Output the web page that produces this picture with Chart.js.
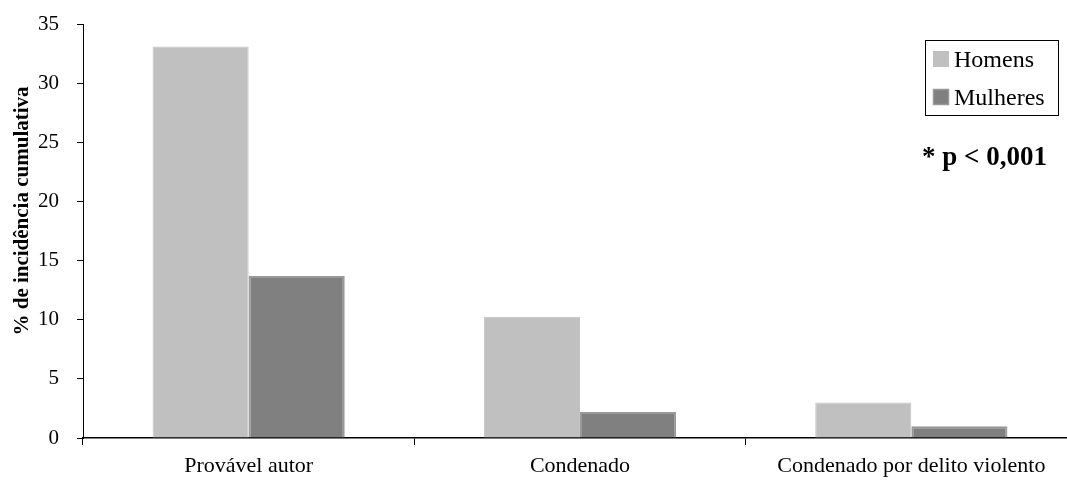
<!DOCTYPE html>
<html>
<head>
<meta charset="utf-8">
<script src="https://cdn.jsdelivr.net/npm/chart.js@4.4.0/dist/chart.umd.min.js"></script>
<style>
  html, body { margin: 0; padding: 0; background: #fff; overflow: hidden; }
  #wrap { width: 1078px; height: 485px; }
</style>
</head>
<body>
<div id="wrap"><canvas id="chart" width="1078" height="485"></canvas></div>
<script>
// data
const categories = ['Provável autor', 'Condenado', 'Condenado por delito violento'];
const homens = [33.1, 10.25, 3.0];
const mulheres = [13.7, 2.2, 1.0];
const yTicks = [0, 5, 10, 15, 20, 25, 30, 35];
const seriesNames = ['Homens', 'Mulheres'];
const yTitle = '% de incidência cumulativa';
const note = '* p < 0,001';

const serif = "'Liberation Serif', 'Times New Roman', serif";

// legend box, p-value note and y title (sits a bit above the axis middle)
const legendNote = {
  id: 'legendNote',
  afterDraw(chart) {
    const ctx = chart.ctx;
    const r = chart.chartArea.right;
    const x0 = r - 152, y0 = 40, w = 133, h = 75;
    ctx.save();
    ctx.fillStyle = '#fff';
    ctx.fillRect(x0, y0, w, h);
    ctx.strokeStyle = '#000';
    ctx.lineWidth = 1;
    ctx.strokeRect(x0 + 0.5, y0 + 0.5, w, h);
    ctx.font = '24px ' + serif;
    ctx.textBaseline = 'middle';
    chart.data.datasets.forEach((ds, i) => {
      const cy = y0 + 19 + i * 38;
      ctx.fillStyle = ds.backgroundColor;
      ctx.fillRect(x0 + 8, cy - 8, 16, 16);
      if (i === 1) {
        ctx.strokeStyle = ds.borderColor;
        ctx.lineWidth = 1.5;
        ctx.strokeRect(x0 + 8.5, cy - 7.5, 15, 15);
      }
      ctx.fillStyle = '#000';
      ctx.fillText(ds.label, x0 + 29, cy + 2);
    });
    ctx.font = 'bold 27px ' + serif;
    ctx.fillText(note, x0 - 3, 158);

    ctx.translate(23, chart.chartArea.top + 187);
    ctx.rotate(-Math.PI / 2);
    ctx.textAlign = 'center';
    ctx.font = 'bold 21px ' + serif;
    ctx.fillText(yTitle, 0, 0);
    ctx.restore();
  }
};

new Chart(document.getElementById('chart'), {
  type: 'bar',
  data: {
    labels: categories,
    datasets: [
      { label: seriesNames[0], data: homens, backgroundColor: '#c0c0c0', borderColor: '#c4c4c4', borderWidth: 1 },
      { label: seriesNames[1], data: mulheres, backgroundColor: '#808080', borderColor: '#999999', borderWidth: 2 }
    ]
  },
  options: {
    responsive: false,
    animation: false,
    layout: { padding: { top: 24, right: 1, left: 0, bottom: 0 } },
    datasets: { bar: { categoryPercentage: 0.58, barPercentage: 1.0 } },
    plugins: { legend: { display: false }, tooltip: { enabled: false } },
    scales: {
      x: {
        grid: { display: true, drawOnChartArea: false, offset: true, tickLength: 7, color: '#000' },
        border: { color: '#000', width: 1.5 },
        ticks: { color: '#000', font: { family: serif, size: 22 }, padding: 8, maxRotation: 0 },
        afterFit(s) { s.height = 47; }
      },
      y: {
        min: 0, max: 35,
        afterBuildTicks(s) { s.ticks = yTicks.map(v => ({ value: v })); },
        grid: { display: true, drawOnChartArea: false, tickLength: 6, color: '#000' },
        border: { color: '#000', width: 1 },
        ticks: { color: '#000', font: { family: serif, size: 21 }, padding: 18 },
        afterFit(s) { s.width = 83; s.paddingTop = 12; s.paddingBottom = 12; }
      }
    }
  },
  plugins: [legendNote]
});
</script>
</body>
</html>
